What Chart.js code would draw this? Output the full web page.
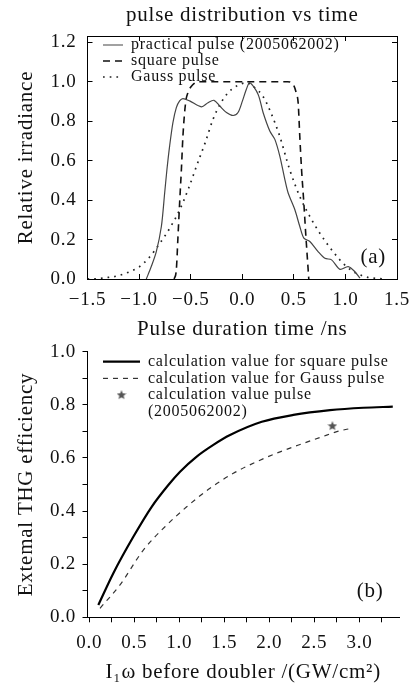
<!DOCTYPE html>
<html><head><meta charset="utf-8">
<script src="https://cdn.jsdelivr.net/npm/chart.js@4"></script>
<style>
html,body{margin:0;padding:0;background:#fff;}
#wrap{position:relative;width:417px;height:690px;overflow:hidden;}
#cA{position:absolute;left:0;top:0;}
#cB{position:absolute;left:0;top:340px;}
</style></head><body>
<div id="wrap"><canvas id="cA" width="417" height="340"></canvas><canvas id="cB" width="417" height="350"></canvas></div>
<script>
// ---------- Panel (a) data ----------
const timeTicks = [-1.5, -1.0, -0.5, 0.0, 0.5, 1.0, 1.5];
const irrTicks = [0, 0.2, 0.4, 0.6, 0.8, 1.0, 1.2];
const practicalX = [-0.93,-0.882,-0.833,-0.784,-0.752,-0.73,-0.704,-0.672,-0.639,-0.607,-0.575,-0.51,-0.396,-0.332,-0.274,-0.218,-0.153,-0.089,-0.041,0.002,0.04,0.073,0.153,0.202,0.267,0.316,0.364,0.413,0.445,0.51,0.558,0.597,0.655,0.735,0.801,0.866,0.947,1.027,1.092,1.141];
const practicalY = [0,0.063,0.139,0.266,0.436,0.555,0.674,0.793,0.869,0.903,0.915,0.903,0.873,0.894,0.906,0.877,0.844,0.829,0.844,0.903,0.962,0.995,0.937,0.844,0.75,0.708,0.623,0.504,0.436,0.351,0.266,0.207,0.19,0.139,0.105,0.097,0.049,0.063,0.037,0.004];
const squareX = [-0.66,-0.639,-0.623,-0.607,-0.59,-0.575,-0.549,-0.526,-0.48,-0.42,0.0,0.44,0.5,0.525,0.542,0.558,0.575,0.597,0.617,0.639,0.645];
const squareY = [0,0.046,0.215,0.385,0.554,0.724,0.894,0.945,0.985,1.0,1.0,1.0,0.98,0.94,0.893,0.72,0.554,0.385,0.215,0.046,0];
const gaussX = [-1.5,-1.4,-1.3,-1.2,-1.1,-0.995,-0.9,-0.8,-0.7,-0.607,-0.52,-0.445,-0.36,-0.283,-0.21,-0.138,-0.05,0.04,0.12,0.2,0.28,0.364,0.46,0.558,0.655,0.752,0.88,1.01,1.17,1.3,1.4];
const gaussY = [0,0.002,0.008,0.017,0.035,0.063,0.11,0.18,0.26,0.35,0.46,0.57,0.69,0.81,0.89,0.944,0.98,0.995,0.97,0.927,0.84,0.723,0.554,0.418,0.317,0.232,0.139,0.063,0.015,0.003,0];
const legendA = ['practical pulse (2005062002)', 'square pulse', 'Gauss pulse'];

// ---------- Panel (b) data ----------
const intensTicks = [0,0.25,0.5,0.75,1.0,1.25,1.5,1.75,2.0,2.25,2.5,2.75,3.0,3.25];
const effTicks = [0,0.1,0.2,0.3,0.4,0.5,0.6,0.7,0.8,0.9,1.0];
const effSquareX = [0.10,0.267,0.489,0.693,0.878,1.008,1.193,1.378,1.563,1.916,2.267,2.674,3.044,3.371];
const effSquareY = [0.046,0.166,0.303,0.416,0.498,0.548,0.605,0.649,0.686,0.736,0.762,0.780,0.789,0.793];
const effGaussX = [0.119,0.341,0.6,0.841,1.082,1.341,1.6,1.86,2.119,2.378,2.638,2.749,2.916];
const effGaussY = [0.034,0.122,0.253,0.341,0.416,0.486,0.542,0.586,0.623,0.655,0.686,0.699,0.712];
const effPulseX = [2.70];
const effPulseY = [0.720];
const legendB = ['calculation value for square pulse', 'calculation value for Gauss pulse', ['calculation value pulse', '(2005062002)']];

const SERIF = "'Liberation Serif','Times New Roman',serif";
Chart.defaults.font.family = SERIF;
Chart.defaults.color = '#111';

const pts = (xs, ys) => xs.map((x, i) => ({x, y: ys[i]}));
const toTicks = arr => arr.map(v => ({value: v}));

function makeStar(size, color) {
  const c = document.createElement('canvas');
  c.width = c.height = size;
  const g = c.getContext('2d');
  g.fillStyle = color;
  g.beginPath();
  const cx = size / 2, cy = size / 2, R = size / 2, r = R * 0.45;
  for (let i = 0; i < 10; i++) {
    const a = -Math.PI / 2 + i * Math.PI / 5;
    const rr = i % 2 ? r : R;
    g.lineTo(cx + rr * Math.cos(a), cy + rr * Math.sin(a));
  }
  g.closePath();
  g.fill();
  return c;
}
const starImg = makeStar(10, '#555');

const spacing = {
  id: 'spacing',
  beforeInit(chart) { chart.ctx.letterSpacing = '0.75px'; },
  beforeUpdate(chart) { chart.ctx.letterSpacing = '0.75px'; },
  beforeDraw(chart) { chart.ctx.letterSpacing = '0.75px'; }
};
const panelLabel = {
  id: 'panelLabel',
  afterDatasetsDraw(chart, args, opts) {
    const {ctx, scales} = chart;
    ctx.save();
    ctx.font = '21px ' + SERIF;
    ctx.fillStyle = '#111';
    ctx.textAlign = 'center';
    ctx.textBaseline = 'middle';
    ctx.fillText(opts.text, scales.x.getPixelForValue(opts.x), scales.y.getPixelForValue(opts.y));
    ctx.restore();
  }
};
const legendShift = {
  id: 'legendShift',
  afterLayout(chart, args, opts) {
    const lg = chart.legend;
    if (!lg) return;
    const w = lg.width, h = lg.height;
    lg.left = chart.chartArea.left + opts.dx;
    lg.top = chart.chartArea.top + opts.dy;
    lg.right = lg.left + w;
    lg.bottom = lg.top + h;
  }
};
function lineLegendItems(chart) {
  const items = Chart.defaults.plugins.legend.labels.generateLabels(chart);
  items.forEach(it => {
    const ds = chart.data.datasets[it.datasetIndex];
    it.lineDash = ds.borderDash || [];
    it.lineWidth = ds.borderWidth;
    it.strokeStyle = ds.borderColor;
    it.pointStyle = ds.pointStyle;
  });
  return items;
}
function fixSize(prop, val) {
  return s => {
    s[prop] = val;
    s.paddingTop = 0; s.paddingBottom = 0; s.paddingLeft = 0; s.paddingRight = 0;
  };
}

const frameGrid = {drawOnChartArea: false, drawTicks: true, tickLength: -5, color: '#000', lineWidth: 1};
const frameBorder = {display: true, color: '#000', width: 1};
const signed = v => (v < 0 ? '\u2212' + Math.abs(v).toFixed(1) : Number(v).toFixed(1));

new Chart(document.getElementById('cA'), {
  type: 'line',
  data: {
    datasets: [
      {label: legendA[0], data: pts(practicalX, practicalY), borderColor: '#444', borderWidth: 1.2, pointRadius: 0, pointStyle: 'line', tension: 0.3, fill: false},
      {label: legendA[1], data: pts(squareX, squareY), borderColor: '#111', borderWidth: 1.6, borderDash: [7, 5], pointRadius: 0, pointStyle: 'line', cubicInterpolationMode: 'monotone', fill: false},
      {label: legendA[2], data: pts(gaussX, gaussY), borderColor: '#222', borderWidth: 1.7, borderDash: [1.7, 5], pointRadius: 0, pointStyle: 'line', cubicInterpolationMode: 'monotone', fill: false}
    ]
  },
  options: {
    responsive: false, animation: false, events: [],
    layout: {padding: 0},
    plugins: {
      tooltip: {enabled: false},
      title: {display: false},
      legend: {
        position: 'chartArea', align: 'start',
        labels: {usePointStyle: true, pointStyleWidth: 20, boxHeight: 6, padding: 0, color: '#111', font: {size: 16, lineHeight: 1}, generateLabels: lineLegendItems}
      },
      legendShift: {dx: 15.5, dy: 1},
      panelLabel: {text: '(a)', x: 1.27, y: 0.11}
    },
    scales: {
      x: {
        type: 'linear', position: 'bottom', min: -1.5, max: 1.5,
        afterBuildTicks: s => { s.ticks = toTicks(timeTicks); },
        ticks: {font: {size: 19}, color: '#111', padding: 14.6, autoSkip: false, maxRotation: 0, callback: v => signed(v)},
        grid: frameGrid, border: frameBorder,
        title: {display: true, text: 'Pulse duration time /ns', color: '#111', font: {size: 21, lineHeight: 1}, padding: {top: 0, bottom: 0.5}},
        afterFit: fixSize('height', 61)
      },
      xTop: {
        type: 'linear', position: 'top', min: -1.5, max: 1.5,
        afterBuildTicks: s => { s.ticks = toTicks(timeTicks); },
        ticks: {display: false},
        grid: frameGrid, border: frameBorder,
        title: {display: true, text: 'pulse distribution vs time', color: '#111', font: {size: 21, lineHeight: 1}, padding: {top: 4.5, bottom: 0}},
        afterFit: fixSize('height', 36)
      },
      y: {
        type: 'linear', position: 'left', min: 0, max: 1.232,
        afterBuildTicks: s => { s.ticks = toTicks(irrTicks); },
        ticks: {font: {size: 19}, color: '#111', padding: 16, autoSkip: false, callback: v => Number(v).toFixed(1)},
        grid: frameGrid, border: frameBorder,
        title: {display: true, text: 'Relative irradiance', color: '#111', font: {size: 21, lineHeight: 1}, padding: {top: 15.5, bottom: 0}},
        afterFit: fixSize('width', 87.5)
      },
      yRight: {
        type: 'linear', position: 'right', min: 0, max: 1.232,
        afterBuildTicks: s => { s.ticks = toTicks(irrTicks); },
        ticks: {display: false},
        grid: frameGrid, border: frameBorder,
        afterFit: fixSize('width', 20)
      }
    }
  },
  plugins: [spacing, legendShift, panelLabel]
});

const outGrid = {drawOnChartArea: false, drawTicks: true, tickLength: 5, color: '#000', lineWidth: 1};

new Chart(document.getElementById('cB'), {
  type: 'line',
  data: {
    datasets: [
      {label: legendB[0], data: pts(effSquareX, effSquareY), borderColor: '#000', borderWidth: 2.2, pointRadius: 0, pointStyle: 'line', cubicInterpolationMode: 'monotone', fill: false},
      {label: legendB[1], data: pts(effGaussX, effGaussY), borderColor: '#333', borderWidth: 1.2, borderDash: [5, 5], pointRadius: 0, pointStyle: 'line', cubicInterpolationMode: 'monotone', fill: false},
      {label: legendB[2], data: pts(effPulseX, effPulseY), showLine: false, borderColor: '#555', backgroundColor: '#555', borderWidth: 0, pointStyle: starImg, pointRadius: 5}
    ]
  },
  options: {
    responsive: false, animation: false, events: [],
    layout: {padding: {top: 11.7, right: 18, left: 0, bottom: 0}},
    plugins: {
      tooltip: {enabled: false},
      legend: {
        position: 'chartArea', align: 'start',
        labels: {usePointStyle: true, pointStyleWidth: 37, boxHeight: 6, padding: 0.7, color: '#111', font: {size: 16, lineHeight: 1.05}, generateLabels: lineLegendItems}
      },
      legendShift: {dx: 14.8, dy: 1.3},
      panelLabel: {text: '(b)', x: 3.12, y: 0.096}
    },
    scales: {
      x: {
        type: 'linear', position: 'bottom', min: -0.02, max: 3.44,
        afterBuildTicks: s => { s.ticks = toTicks(intensTicks); },
        ticks: {font: {size: 19}, color: '#111', padding: 9.8, autoSkip: false, maxRotation: 0,
          callback: v => (Math.abs(v * 2 - Math.round(v * 2)) < 1e-6 ? Number(v).toFixed(1) : '')},
        grid: outGrid, border: frameBorder,
        title: {display: true, text: 'I\u2081\u03c9 before doubler /(GW/cm\u00b2)', color: '#111', font: {size: 21, lineHeight: 1}, padding: {top: 0, bottom: 7.5}},
        afterFit: fixSize('height', 72.7)
      },
      y: {
        type: 'linear', position: 'left', min: 0, max: 1.0,
        afterBuildTicks: s => { s.ticks = toTicks(effTicks); },
        ticks: {font: {size: 19}, color: '#111', padding: 6.5, autoSkip: false,
          callback: v => (Math.round(v * 10) % 2 === 0 ? Number(v).toFixed(1) : '')},
        grid: outGrid, border: frameBorder,
        title: {display: true, text: 'Extemal THG efficiency', color: '#111', font: {size: 21, lineHeight: 1}, padding: {top: 15.5, bottom: 0}},
        afterFit: fixSize('width', 87.5)
      }
    }
  },
  plugins: [spacing, legendShift, panelLabel]
});
</script>
</body></html>
